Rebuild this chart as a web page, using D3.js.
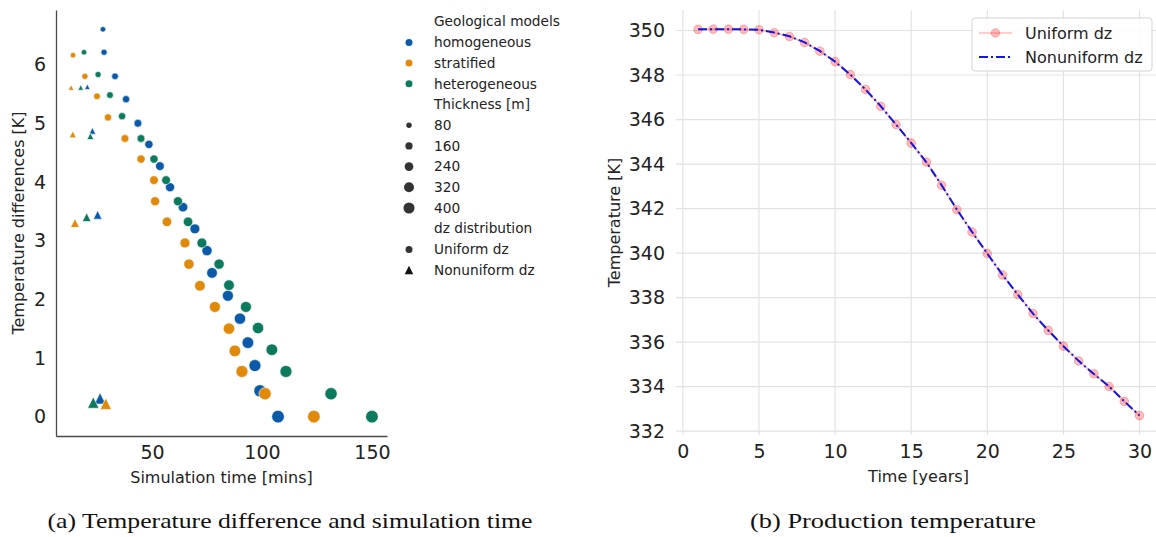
<!DOCTYPE html>
<html>
<head>
<meta charset="utf-8">
<script src="https://cdn.jsdelivr.net/npm/d3@7"></script>
<style>
  html, body { margin: 0; padding: 0; background: #fff; }
  svg { display: block; font-family: "DejaVu Sans", sans-serif; }
  .caption { font-family: "Liberation Serif", serif; font-size: 22px; fill: #111; }
</style>
</head>
<body>
<svg id="fig" width="1156" height="537"></svg>
<script>
// ---------- (a) temperature difference vs simulation time ----------
const models = ["homogeneous", "stratified", "heterogeneous"];
const modelColors = ["#0a5aa8", "#e08a0b", "#0c7a5c"];

// uniform dz runs: reservoir thickness [m] of each run
const thicknessUniform = [60, 80, 100, 120, 140, 160, 180, 200, 220, 240, 260, 280, 300, 320, 340, 360, 380, 400];
const homUniformTime = [27.7, 28.2, 33.2, 38.2, 43.6, 48.6, 53.6, 58.2, 64.1, 69.5, 75.0, 77.3, 84.5, 90.0, 93.6, 96.8, 99.1, 107.3];
const homUniformDiff = [6.60, 6.21, 5.80, 5.41, 5.00, 4.64, 4.27, 3.91, 3.57, 3.20, 2.83, 2.45, 2.06, 1.67, 1.26, 0.87, 0.44, 0.00];
const strUniformTime = [14.1, 19.5, 25.0, 30.0, 37.7, 45.0, 50.9, 51.4, 56.8, 65.0, 66.8, 71.8, 78.6, 85.0, 87.7, 90.9, 101.4, 123.6];
const strUniformDiff = [6.16, 5.80, 5.46, 5.10, 4.74, 4.39, 4.03, 3.67, 3.32, 2.96, 2.60, 2.23, 1.87, 1.50, 1.12, 0.77, 0.39, 0.00];
const hetUniformTime = [19.1, 25.5, 30.9, 36.4, 45.0, 50.9, 56.4, 61.8, 66.4, 72.7, 80.5, 85.0, 92.7, 98.2, 104.5, 110.9, 131.4, 150.0];
const hetUniformDiff = [6.21, 5.83, 5.48, 5.12, 4.74, 4.39, 4.03, 3.67, 3.32, 2.96, 2.60, 2.24, 1.87, 1.51, 1.14, 0.77, 0.39, 0.00];

// nonuniform dz runs
const thicknessNonuniform = [60, 100, 180, 320];
const homNonuniformTime = [20.6, 22.9, 25.3, 26.4];
const homNonuniformDiff = [5.62, 4.87, 3.44, 0.31];
const strNonuniformTime = [13.2, 14.0, 15.0, 29.0];
const strNonuniformDiff = [5.61, 4.81, 3.30, 0.22];
const hetNonuniformTime = [17.6, 22.0, 20.3, 23.3];
const hetNonuniformDiff = [5.61, 4.78, 3.40, 0.24];

const diffTicks = [0, 1, 2, 3, 4, 5, 6];
const simTimeTicks = [50, 100, 150];
const thicknessLegend = [80, 160, 240, 320, 400];

// ---------- (b) production temperature ----------
const years = [1, 2, 3, 4, 5, 6, 7, 8, 9, 10, 11, 12, 13, 14, 15, 16, 17, 18, 19, 20, 21, 22, 23, 24, 25, 26, 27, 28, 29, 30];
const uniformTemp = [350.05, 350.06, 350.06, 350.05, 350.03, 349.90, 349.73, 349.46, 349.07, 348.60, 348.02, 347.35, 346.59, 345.78, 344.94, 344.09, 343.05, 341.95, 340.95, 339.98, 339.02, 338.14, 337.29, 336.53, 335.82, 335.16, 334.58, 334.01, 333.34, 332.70];
const nonuniformTemp = [350.05, 350.06, 350.06, 350.05, 350.03, 349.91, 349.74, 349.47, 349.08, 348.60, 348.02, 347.35, 346.60, 345.78, 344.95, 344.08, 343.05, 341.96, 340.95, 339.98, 339.02, 338.14, 337.28, 336.53, 335.82, 335.16, 334.57, 334.01, 333.34, 332.70];
const timeTicks = [0, 5, 10, 15, 20, 25, 30];
const tempTicks = [332, 334, 336, 338, 340, 342, 344, 346, 348, 350];

const svg = d3.select("#fig");
const ink = "#222";
const tickFont = 19;

// ================= panel (a) =================
const ax = d3.scaleLinear().domain([6.36, 156.84]).range([56, 387]);
const ay = d3.scaleLinear().domain([-0.33, 6.93]).range([436, 10]);
// marker area grows linearly with thickness
const areaScale = d3.scaleLinear().domain([60, 400]).range([5.5 * 5.5, 12.6 * 12.6]);
const diam = t => Math.sqrt(areaScale(t));

const triPath = d => `M0,${-d / 2}L${-d / 2},${d / 2}L${d / 2},${d / 2}Z`;

const gA = svg.append("g");

const xAxisA = d3.axisBottom(ax).tickValues(simTimeTicks).tickSize(0).tickPadding(10).tickFormat(d3.format("d"));
const yAxisA = d3.axisLeft(ay).tickValues(diffTicks).tickSize(0).tickPadding(10).tickFormat(d3.format("d"));

gA.append("g").attr("transform", "translate(0,436)").call(xAxisA)
  .call(g => g.select(".domain").attr("stroke", "#4a4a4a").attr("stroke-width", 1.3))
  .call(g => g.selectAll("text").attr("font-size", tickFont).attr("fill", ink).attr("font-family", "DejaVu Sans"));
gA.append("g").attr("transform", "translate(56,0)").call(yAxisA)
  .call(g => g.select(".domain").attr("stroke", "#4a4a4a").attr("stroke-width", 1.3))
  .call(g => g.selectAll("text").attr("font-size", tickFont).attr("fill", ink).attr("font-family", "DejaVu Sans"));

const uniformSets = [
  { t: homUniformTime, d: homUniformDiff },
  { t: strUniformTime, d: strUniformDiff },
  { t: hetUniformTime, d: hetUniformDiff }
];
const nonuniformSets = [
  { t: homNonuniformTime, d: homNonuniformDiff },
  { t: strNonuniformTime, d: strNonuniformDiff },
  { t: hetNonuniformTime, d: hetNonuniformDiff }
];

const pts = gA.append("g");
models.forEach((m, i) => {
  const u = uniformSets[i];
  u.t.forEach((tv, k) => {
    pts.append("circle")
      .attr("cx", ax(tv)).attr("cy", ay(u.d[k]))
      .attr("r", diam(thicknessUniform[k]) / 2)
      .attr("fill", modelColors[i]).attr("stroke", "#fff").attr("stroke-width", 0.6);
  });
  const n = nonuniformSets[i];
  n.t.forEach((tv, k) => {
    pts.append("path")
      .attr("transform", `translate(${ax(tv)},${ay(n.d[k])})`)
      .attr("d", triPath(diam(thicknessNonuniform[k])))
      .attr("fill", modelColors[i]).attr("stroke", "#fff").attr("stroke-width", 0.6);
  });
});

gA.append("text").attr("x", 221.5).attr("y", 483).attr("text-anchor", "middle")
  .attr("font-size", 16).attr("fill", ink).text("Simulation time [mins]");
gA.append("text").attr("transform", "translate(24,223) rotate(-90)").attr("text-anchor", "middle")
  .attr("font-size", 16).attr("fill", ink).text("Temperature differences [K]");

// legend for panel (a)
const legA = svg.append("g").attr("font-size", 13.7).attr("fill", ink);
const rowY = i => 21.7 + 20.7 * i;
const mx = 409, tx = 434;
const legendRows = [];
legendRows.push({ label: "Geological models" });
models.forEach((m, i) => legendRows.push({ label: m, shape: "circle", color: modelColors[i], d: 7 }));
legendRows.push({ label: "Thickness [m]" });
thicknessLegend.forEach(t => legendRows.push({ label: String(t), shape: "circle", color: "#333", d: diam(t) * 0.88 }));
legendRows.push({ label: "dz distribution" });
legendRows.push({ label: "Uniform dz", shape: "circle", color: "#333", d: 7 });
legendRows.push({ label: "Nonuniform dz", shape: "tri", color: "#111", d: 8.5 });

legendRows.forEach((r, i) => {
  const y = rowY(i);
  if (r.shape === "circle") {
    legA.append("circle").attr("cx", mx).attr("cy", y).attr("r", r.d / 2).attr("fill", r.color);
  } else if (r.shape === "tri") {
    legA.append("path").attr("transform", `translate(${mx},${y})`).attr("d", triPath(r.d)).attr("fill", r.color);
  }
  legA.append("text").attr("x", tx).attr("y", y).attr("dy", "0.35em").text(r.label);
});

// ================= panel (b) =================
const bx = d3.scaleLinear().domain([-0.45, 31.45]).range([676, 1161.6]);
const by = d3.scaleLinear().domain([331.83, 350.92]).range([435, 10]);
const gB = svg.append("g");

// grid
gB.append("g").selectAll("line").data(timeTicks).join("line")
  .attr("x1", d => bx(d)).attr("x2", d => bx(d)).attr("y1", 10).attr("y2", 435)
  .attr("stroke", "#e3e3e3").attr("stroke-width", 1.2);
gB.append("g").selectAll("line").data(tempTicks).join("line")
  .attr("x1", 676).attr("x2", 1161.6).attr("y1", d => by(d)).attr("y2", d => by(d))
  .attr("stroke", "#e3e3e3").attr("stroke-width", 1.2);

const xAxisB = d3.axisBottom(bx).tickValues(timeTicks).tickSize(0).tickPadding(10).tickFormat(d3.format("d"));
const yAxisB = d3.axisLeft(by).tickValues(tempTicks).tickSize(0).tickPadding(11).tickFormat(d3.format("d"));
gB.append("g").attr("transform", "translate(0,435)").call(xAxisB)
  .call(g => g.select(".domain").remove())
  .call(g => g.selectAll("text").attr("font-size", tickFont).attr("fill", ink).attr("font-family", "DejaVu Sans"));
gB.append("g").attr("transform", "translate(676,0)").call(yAxisB)
  .call(g => g.select(".domain").remove())
  .call(g => g.selectAll("text").attr("font-size", tickFont).attr("fill", ink).attr("font-family", "DejaVu Sans"));

const lineU = d3.line().x((d, i) => bx(years[i])).y(d => by(d));
const pink = "rgba(255,0,0,0.26)";
gB.append("path").datum(uniformTemp).attr("d", lineU).attr("fill", "none")
  .attr("stroke", pink).attr("stroke-width", 1.6);
gB.append("g").selectAll("circle").data(uniformTemp).join("circle")
  .attr("cx", (d, i) => bx(years[i])).attr("cy", d => by(d)).attr("r", 4.3)
  .attr("fill", pink).attr("stroke", pink).attr("stroke-width", 1);
gB.append("path").datum(nonuniformTemp).attr("d", lineU).attr("fill", "none")
  .attr("stroke", "#1414e6").attr("stroke-width", 2).attr("stroke-dasharray", "9,3,2,3");

gB.append("text").attr("x", 918.5).attr("y", 482).attr("text-anchor", "middle")
  .attr("font-size", 16).attr("fill", ink).text("Time [years]");
gB.append("text").attr("transform", "translate(620,222.5) rotate(-90)").attr("text-anchor", "middle")
  .attr("font-size", 16).attr("fill", ink).text("Temperature [K]");

// legend for panel (b)
const legB = svg.append("g");
legB.append("rect").attr("x", 972).attr("y", 18).attr("width", 180).attr("height", 53).attr("rx", 3)
  .attr("fill", "rgba(255,255,255,0.85)").attr("stroke", "#d4d4d4");
legB.append("line").attr("x1", 979).attr("x2", 1012).attr("y1", 33).attr("y2", 33)
  .attr("stroke", pink).attr("stroke-width", 1.6);
legB.append("circle").attr("cx", 995.5).attr("cy", 33).attr("r", 4.3).attr("fill", pink).attr("stroke", pink);
legB.append("line").attr("x1", 979).attr("x2", 1012).attr("y1", 57).attr("y2", 57)
  .attr("stroke", "#1414e6").attr("stroke-width", 2).attr("stroke-dasharray", "9,3,2,3");
legB.append("text").attr("x", 1025).attr("y", 33).attr("dy", "0.35em").attr("font-size", 16).attr("fill", ink).text("Uniform dz");
legB.append("text").attr("x", 1025).attr("y", 57).attr("dy", "0.35em").attr("font-size", 16).attr("fill", ink).text("Nonuniform dz");

// ================= captions =================
svg.append("text").attr("class", "caption").attr("x", 290).attr("y", 528).attr("text-anchor", "middle")
  .attr("textLength", 485).attr("lengthAdjust", "spacingAndGlyphs")
  .text("(a) Temperature difference and simulation time");
svg.append("text").attr("class", "caption").attr("x", 893).attr("y", 528).attr("text-anchor", "middle")
  .attr("textLength", 286).attr("lengthAdjust", "spacingAndGlyphs")
  .text("(b) Production temperature");
</script>
</body>
</html>
